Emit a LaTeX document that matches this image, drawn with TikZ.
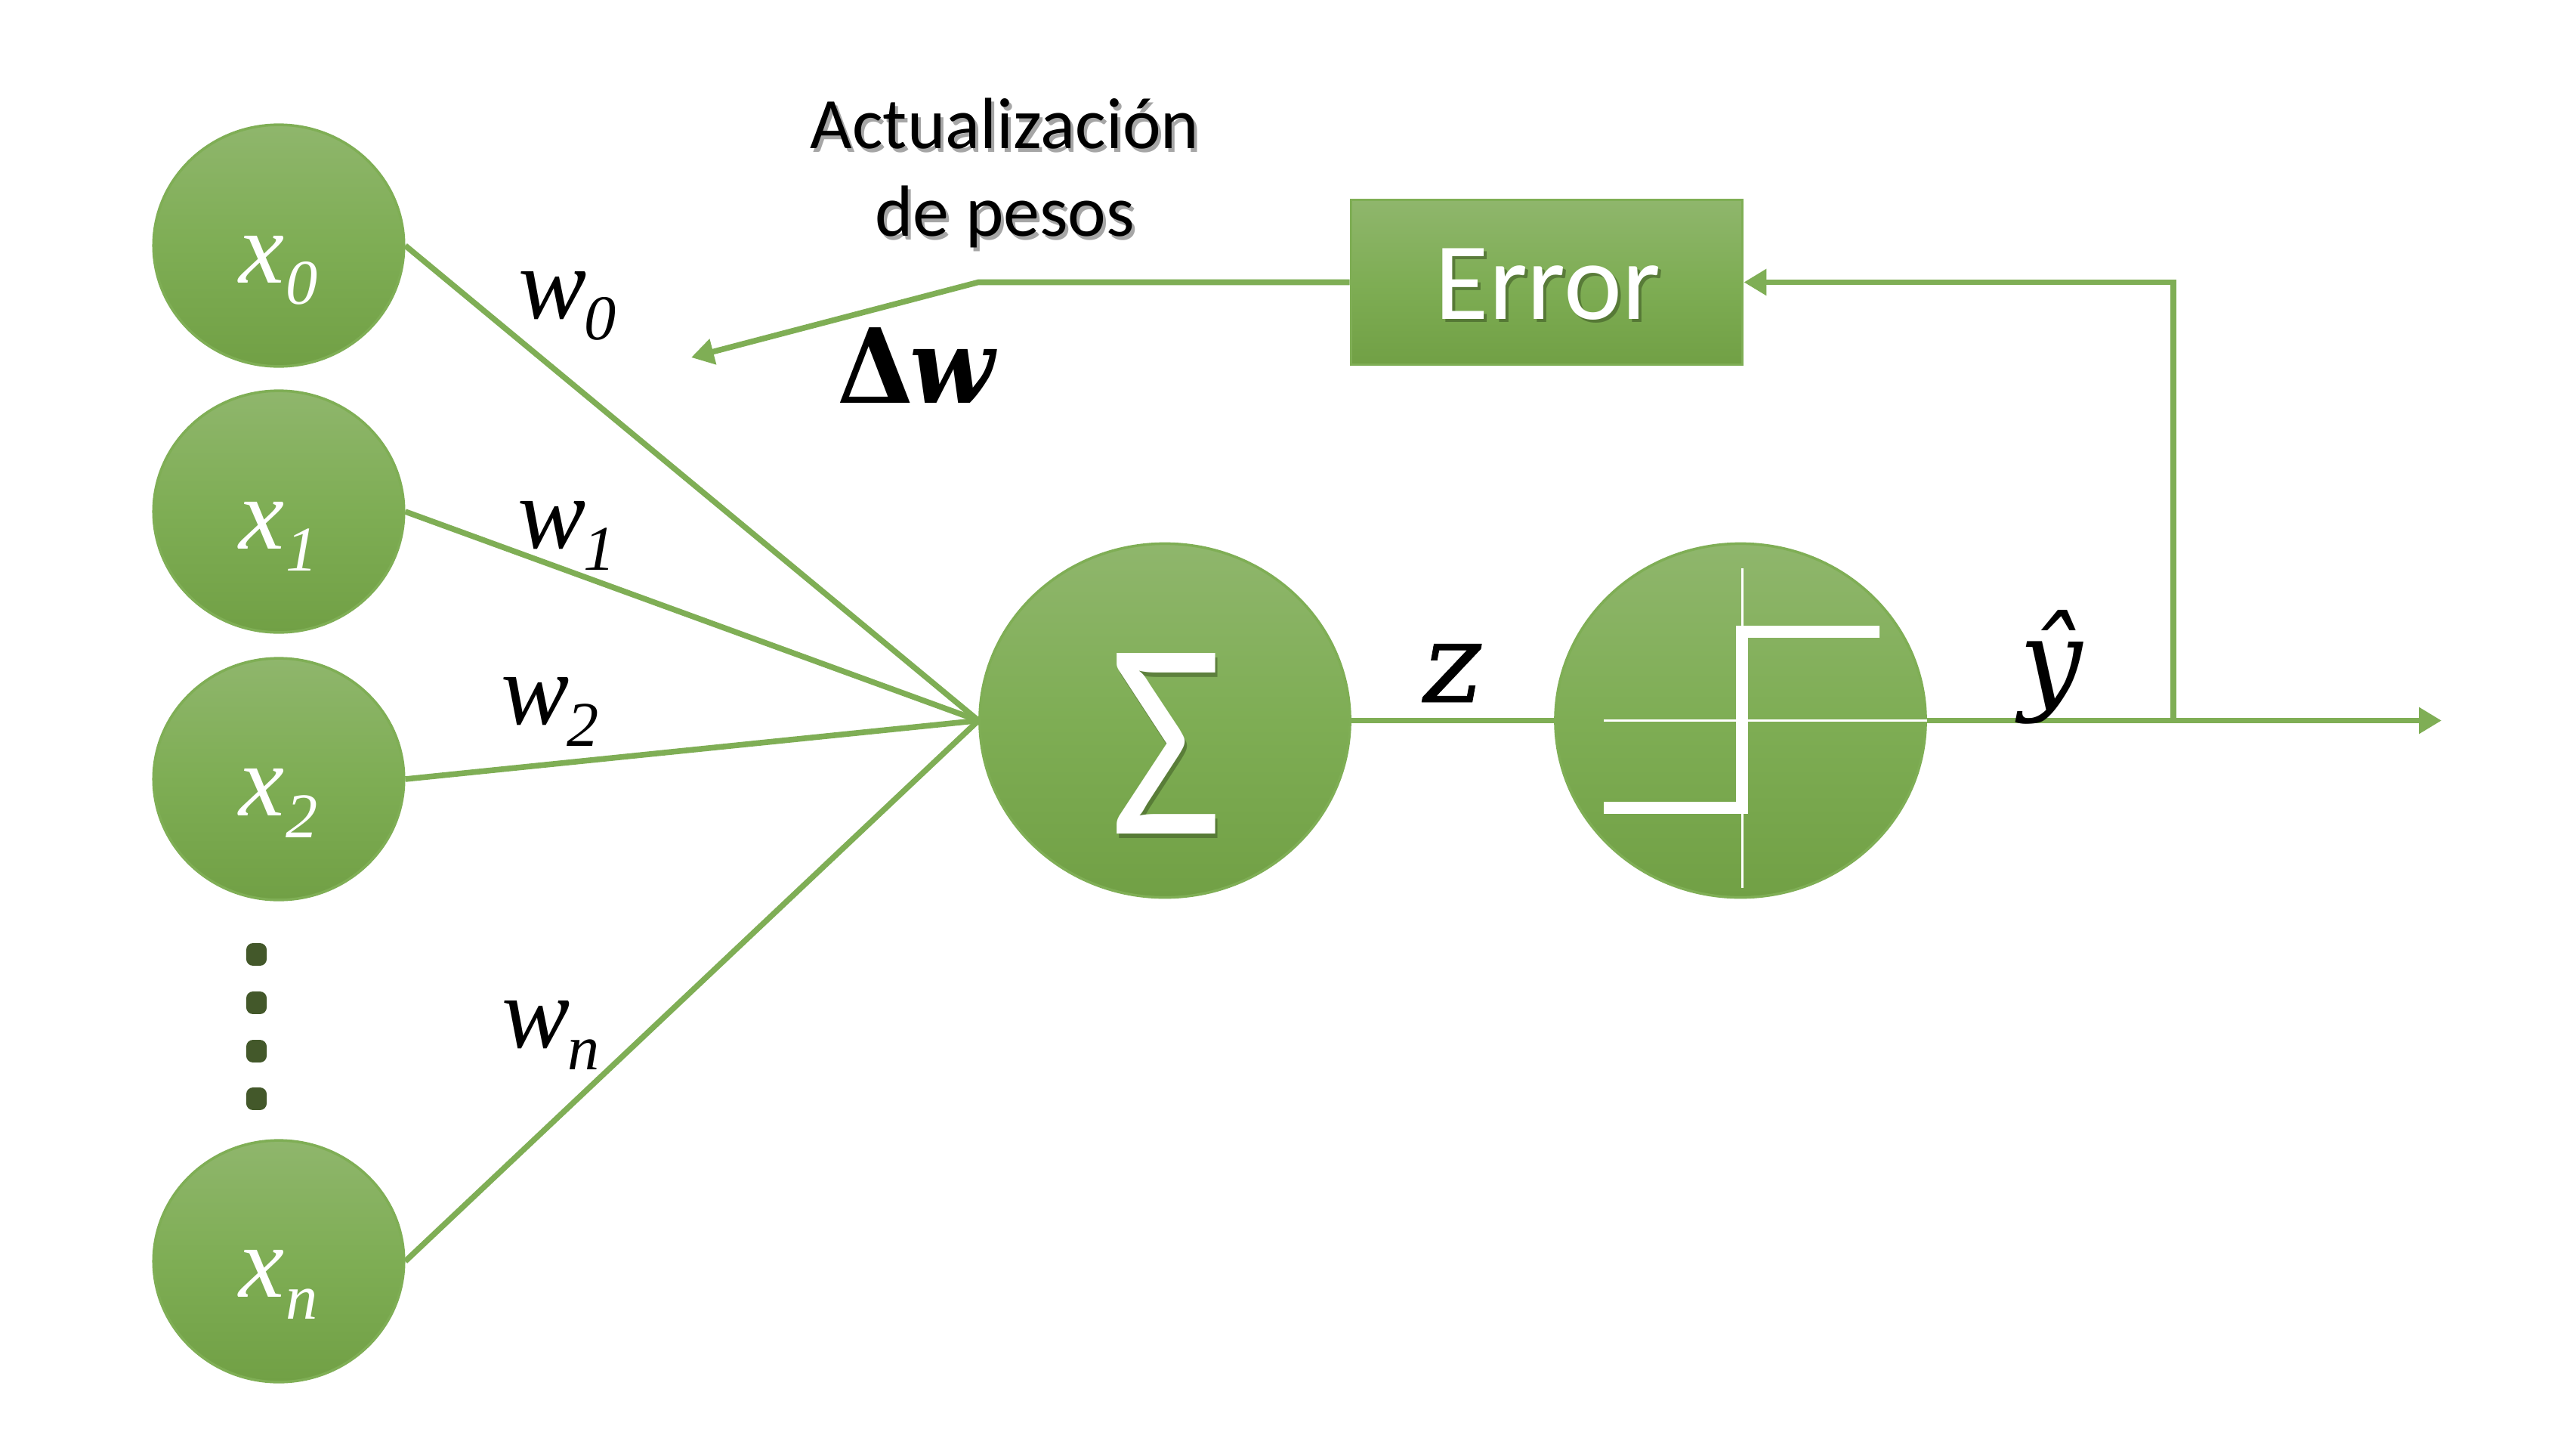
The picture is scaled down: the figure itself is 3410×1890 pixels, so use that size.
\documentclass[tikz,border=0pt]{standalone}
\usepackage{fontspec}
\usetikzlibrary{arrows.meta,shapes.geometric,calc}
\setmainfont{Carlito}
\newfontfamily\serifit{Liberation Serif Italic}
\newfontfamily\djserslant[FakeSlant=0.18,FakeBold=0.6]{DejaVu Serif}
\newfontfamily\djserit{DejaVu Serif Italic}
\newfontfamily\djserb{DejaVu Serif Bold}
\newfontfamily\djserbi{DejaVu Serif Bold Italic}
\definecolor{gline}{HTML}{7FAE55}
\definecolor{gtop}{HTML}{8FB66C}
\definecolor{gbot}{HTML}{71A045}
\definecolor{gdot}{HTML}{43582A}
\definecolor{gshade}{HTML}{3F5A26}
\newcommand{\lbl}[3]{{\serifit\fontsize{77pt}{80pt}\selectfont #1}\kern #3pt\raisebox{-16.5pt}{\serifit\fontsize{48pt}{50pt}\selectfont #2}}
\tikzset{
  px/.style={x=0.02cm,y=-0.02cm},
  inode/.style={ellipse,draw=gline,line width=2pt,inner sep=0pt,minimum width=188.7pt,minimum height=182pt,top color=gtop,bottom color=gbot,middle color=gline!95!gbot},
  bignode/.style={ellipse,draw=gline,line width=2pt,inner sep=0pt,minimum width=279pt,minimum height=266.5pt,top color=gtop,bottom color=gbot,middle color=gline!95!gbot},
  errbox/.style={rectangle,draw=gline,line width=2pt,inner sep=0pt,minimum width=295pt,minimum height=124pt,top color=gtop,bottom color=gbot,middle color=gline!95!gbot},
  conn/.style={draw=gline,line width=4.3pt,line join=miter},
  arr/.style={conn,-{Triangle[length=17pt,width=19pt]}},
  wlab/.style={anchor=base west,inner sep=0pt,text=black},
  xlab/.style={anchor=base west,inner sep=0pt,text=white},
  dotm/.style={rectangle,rounded corners=5pt,fill=gdot,inner sep=0pt,minimum width=15.4pt,minimum height=17pt},
  axis/.style={draw=white,line width=1.7pt},
  stepfn/.style={draw=white,line width=9pt,line join=miter},
  capt/.style={align=center,text=black,font=\fontsize{54.6pt}{66pt}\selectfont,inner sep=0pt},
  errtxt/.style={inner sep=0pt,font=\fontsize{83pt}{86pt}\selectfont},
  sigtxt/.style={inner sep=0pt,xscale=0.87,font=\fontsize{212pt}{214pt}\selectfont},
}
\begin{document}
\begin{tikzpicture}[px]
\useasboundingbox (0,0) rectangle (3410,1890);
\fill[white] (0,0) rectangle (3410,1890);

\node[inode] (x0) at (369,325) {};
\node[inode] (x1) at (369,677) {};
\node[inode] (x2) at (369,1031) {};
\node[inode] (xn) at (369,1669) {};
\node[bignode] (sig) at (1542,953.5) {};
\node[bignode] (stp) at (2304,953.5) {};
\node[errbox] (err) at (2047.5,373.5) {};

\coordinate (bend) at (1295,373.5);
\coordinate (dwtip) at (915,473);
\coordinate (out) at (3232,953.5);
\coordinate (tap) at (2877,953.5);
\coordinate (tapup) at (2877,373.5);

\draw[conn] (x0.east) -- (sig.west);
\draw[conn] (x1.east) -- (sig.west);
\draw[conn] (x2.east) -- (sig.west);
\draw[conn] (xn.east) -- (sig.west);
\draw[conn] (sig.east) -- (stp.west);
\draw[arr] (stp.east) -- (out);
\draw[arr] (tap) -- (tapup) -- (err.east);
\draw[arr] (err.west) -- (bend) -- (dwtip);

% input labels
\node[xlab] (lx0) at (316,374) {\lbl{x}{0}{1}};
\node[xlab] (lx1) at (316,726) {\lbl{x}{1}{1}};
\node[xlab] (lx2) at (316,1079) {\lbl{x}{2}{1}};
\node[xlab] (lxn) at (316,1716) {\lbl{x}{n}{1}};

% weights
\node[wlab] (lw0) at (686,421) {\lbl{w}{0}{-2}};
\node[wlab] (lw1) at (685,725) {\lbl{w}{1}{-2}};
\node[wlab] (lw2) at (663,958) {\lbl{w}{2}{-2}};
\node[wlab] (lwn) at (664,1386) {\lbl{w}{n}{-2}};

% ellipsis
\node[dotm] (d1) at (339.5,1263) {};
\node[dotm] (d2) at (339.5,1327) {};
\node[dotm] (d3) at (339.5,1391) {};
\node[dotm] (d4) at (339.5,1454) {};

% sigma with its shadow
\node[sigtxt,text=gshade,opacity=0.55] (sigshade) at (1547,990) {Σ};
\node[sigtxt,text=white] (sigsym) at (1544,984) {Σ};

% step function
\draw[axis] (2306,752) -- (2306,1175);
\draw[axis] (2123,953.5) -- (stp.east);
\draw[stepfn] (2123,1069) -- (2306,1069) -- (2306,836) -- (2488,836);

% texts with their shadows
\node[errtxt,text=gshade,opacity=0.6] (errshade) at (2053,380) {Error};
\node[errtxt,text=white] (errt) at (2049,376) {Error};
\node[capt,text=black,opacity=0.35] (capshade) at (1334,234) {Actualización\\de pesos};
\node[capt] (cap) at (1330,229) {Actualización\\de pesos};
\node[anchor=base west,inner sep=0pt,xscale=0.95] (dw) at (1108,533) {\fontsize{78pt}{80pt}\selectfont{\djserb Δ}\kern-3pt{\djserbi w}};
\node[anchor=base west,inner sep=0pt] (z) at (1876,929) {\djserslant\fontsize{84pt}{90pt}\selectfont z};
\node[anchor=base west,inner sep=0pt] (yh) at (2673,925) {\djserit\fontsize{84pt}{90pt}\selectfont ŷ};
\end{tikzpicture}
\end{document}
